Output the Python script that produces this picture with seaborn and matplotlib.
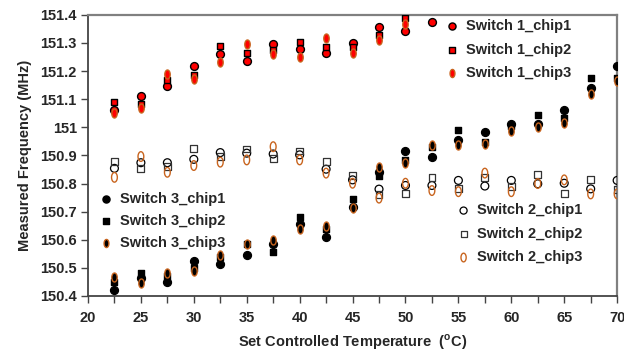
import numpy as np
import pandas as pd
import matplotlib
matplotlib.use("Agg")
import matplotlib.pyplot as plt
from matplotlib.path import Path
from matplotlib.ticker import FixedLocator, MultipleLocator
import seaborn as sns

# ---------------- data ----------------
T = [22.5, 25, 27.5, 30, 32.5, 35, 37.5, 40, 42.5, 45, 47.5, 50, 52.5,
     55, 57.5, 60, 62.5, 65, 67.5, 70]

s1c1 = [151.062, 151.112, 151.148, 151.218, 151.262, 151.236, 151.296, 151.280,
        151.263, 151.300, 151.358, 151.344, 151.376]
s1c2 = [151.090, 151.083, 151.170, 151.186, 151.290, 151.266, 151.275, 151.305,
        151.285, 151.287, 151.329, 151.388]
s1c3 = [151.050, 151.070, 151.190, 151.172, 151.234, 151.296, 151.260, 151.250,
        151.317, 151.266, 151.311, 151.368]

s2c1 = [150.854, 150.874, 150.874, 150.886, 150.910, 150.908, 150.905, 150.902,
        150.851, 150.813, 150.780, 150.793, 150.793, 150.811, 150.791, 150.811,
        150.799, 150.801, 150.781, 150.811]
s2c2 = [150.878, 150.852, 150.860, 150.926, 150.896, 150.923, 150.890, 150.916,
        150.878, 150.828, 150.762, 150.765, 150.821, 150.783, 150.821, 150.789,
        150.833, 150.765, 150.813, 150.780]
s2c3 = [150.822, 150.896, 150.840, 150.864, 150.876, 150.884, 150.931, 150.884,
        150.837, 150.801, 150.748, 150.801, 150.775, 150.771, 150.837, 150.771,
        150.800, 150.813, 150.763, 150.763]

s3c1 = [150.421, 150.465, 150.451, 150.526, 150.514, 150.546, 150.584, 150.655,
        150.609, 150.718, 150.842, 150.917, 150.894, 150.955, 150.985, 151.012,
        151.012, 151.062, 151.139, 151.218]
s3c2 = [150.451, 150.483, 150.472, 150.501, 150.538, 150.584, 150.558, 150.682,
        150.638, 150.745, 150.825, 150.884, 150.929, 150.991, 150.949, 151.005,
        151.044, 151.032, 151.175, 151.175]
s3c3 = [150.469, 150.447, 150.481, 150.487, 150.546, 150.585, 150.599, 150.637,
        150.649, 150.712, 150.860, 150.872, 150.937, 150.937, 150.941, 150.988,
        151.002, 151.015, 151.119, 151.166]

ytick_vals = [150.4, 150.5, 150.6, 150.7, 150.8, 150.9, 151.0, 151.1, 151.2, 151.3, 151.4]
ytick_labels = ["150.4", "150.5", "150.6", "150.7", "150.8", "150.9", "151",
                "151.1", "151.2", "151.3", "151.4"]
xtick_vals = [20, 25, 30, 35, 40, 45, 50, 55, 60, 65, 70]

# ---------------- style ----------------
sns.set_theme(style="white")
plt.rcParams['font.family'] = ['Liberation Sans', 'DejaVu Sans']
plt.rcParams['font.weight'] = 'bold'
plt.rcParams['mathtext.fontset'] = 'custom'
plt.rcParams['mathtext.bf'] = 'Liberation Sans:bold'
plt.rcParams['mathtext.rm'] = 'Liberation Sans:bold'

th = np.linspace(0, 2 * np.pi, 60)
ellipse = Path(np.column_stack([0.6 * np.cos(th), np.sin(th)]), closed=True)

fig = plt.figure(figsize=(6.24, 3.54), dpi=100)
ax = fig.add_axes([0.141, 0.164, 0.848, 0.794])

orange = '#c8641e'
series = [
    ("Switch 1_chip1", s1c1, dict(marker='o', s=32, color='red', edgecolor='black', linewidth=1.0)),
    ("Switch 1_chip2", s1c2, dict(marker='s', s=22, color='red', edgecolor='black', linewidth=1.0)),
    ("Switch 1_chip3", s1c3, dict(marker=ellipse, s=42, color='red', edgecolor=orange, linewidth=1.0)),
    ("Switch 3_chip1", s3c1, dict(marker='o', s=32, color='black', edgecolor='black', linewidth=1.0)),
    ("Switch 3_chip2", s3c2, dict(marker='s', s=22, color='black', edgecolor='black', linewidth=1.0)),
    ("Switch 3_chip3", s3c3, dict(marker=ellipse, s=42, color='black', edgecolor=orange, linewidth=1.0)),
    ("Switch 2_chip1", s2c1, dict(marker='o', s=32, color='none', edgecolor='black', linewidth=0.9)),
    ("Switch 2_chip2", s2c2, dict(marker='s', s=24, color='none', edgecolor='#333333', linewidth=0.9)),
    ("Switch 2_chip3", s2c3, dict(marker=ellipse, s=48, color='none', edgecolor=orange, linewidth=1.0)),
]

for name, vals, kw in series:
    df = pd.DataFrame({"T": T[:len(vals)], "f": vals})
    sns.scatterplot(data=df, x="T", y="f", ax=ax, label=name, legend=False,
                    zorder=3, **kw)
h, l = ax.get_legend_handles_labels()
hd = dict(zip(l, h))

ax.set_xlim(20, 70)
ax.set_ylim(150.4, 151.4)
ax.xaxis.set_major_locator(FixedLocator(xtick_vals))
ax.xaxis.set_minor_locator(MultipleLocator(2.5))
ax.set_yticks(ytick_vals)
ax.set_yticklabels(ytick_labels)
ax.tick_params(axis='both', which='both', direction='out', length=5, width=1,
               color='#444444', labelsize=10.5, pad=3,
               bottom=True, left=True)
ax.tick_params(axis='x', which='major', pad=6)
for lab in ax.get_xticklabels() + ax.get_yticklabels():
    lab.set_fontweight('bold')

for side in ['left', 'bottom']:
    ax.spines[side].set_color('#444444')
    ax.spines[side].set_linewidth(1.3)
for side in ['top', 'right']:
    ax.spines[side].set_color('#808080')
    ax.spines[side].set_linewidth(1.6)

ax.set_xlabel(r"Set Controlled Temperature  ($^{\mathbf{o}}$C)", fontsize=10.5,
              fontweight='bold', labelpad=5)
ax.set_ylabel("Measured Frequency (MHz)", fontsize=10.5, fontweight='bold', labelpad=6)

leg_kw = dict(frameon=False, prop={'weight': 'bold', 'size': 10.5},
              handletextpad=0.4, borderaxespad=0,
              handlelength=1.0, markerscale=0.9)

n1 = ["Switch 1_chip1", "Switch 1_chip2", "Switch 1_chip3"]
leg1 = ax.legend([hd[n] for n in n1], n1, loc='upper left',
                 bbox_to_anchor=(0.664, 1.005), labelspacing=0.65, **leg_kw)
ax.add_artist(leg1)
n3 = ["Switch 3_chip1", "Switch 3_chip2", "Switch 3_chip3"]
leg3 = ax.legend([hd[n] for n in n3], n3, loc='upper left',
                 bbox_to_anchor=(0.01, 0.39), labelspacing=0.55, **leg_kw)
ax.add_artist(leg3)
n2 = ["Switch 2_chip1", "Switch 2_chip2", "Switch 2_chip3"]
leg2 = ax.legend([hd[n] for n in n2], n2, loc='upper left',
                 bbox_to_anchor=(0.685, 0.35), labelspacing=0.65, **leg_kw)

fig.savefig("out.png", dpi=100)
